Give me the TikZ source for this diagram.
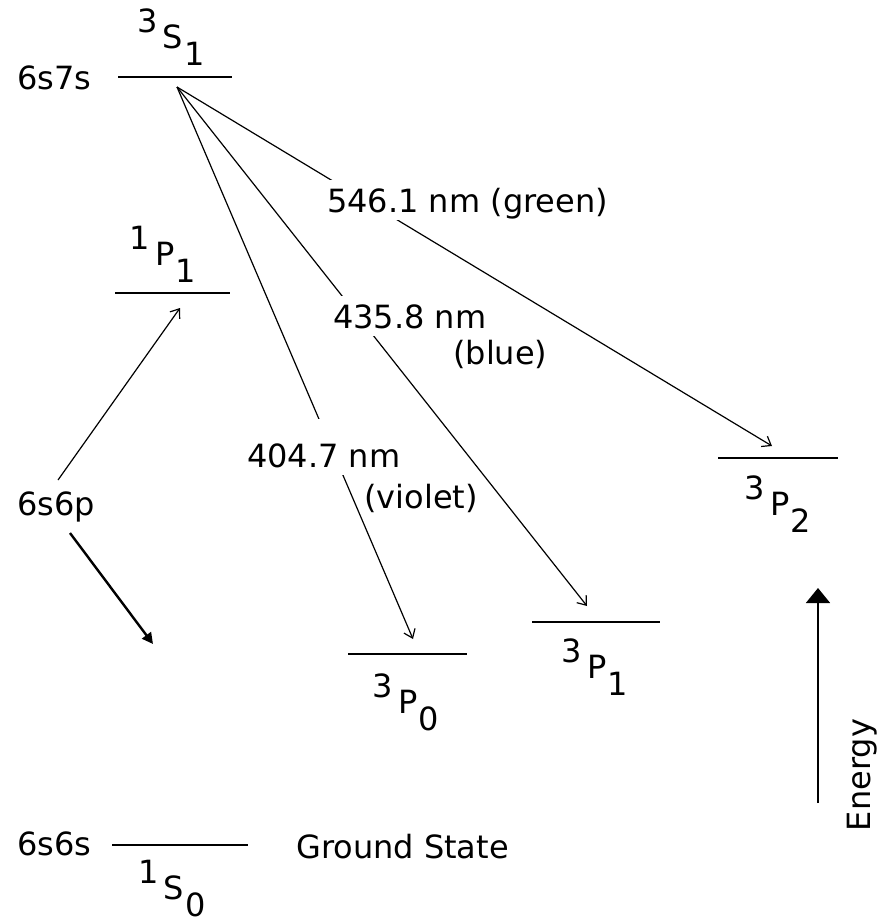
\documentclass[tikz,border=0pt]{standalone}
\usepackage{fontspec}
\setmainfont{DejaVu Sans}
\usetikzlibrary{arrows.meta}

\newcommand{\term}[3]{\raisebox{16pt}{#1}\hspace{5pt}#2\hspace{1pt}\raisebox{-17pt}{#3}}

\begin{document}
\begin{tikzpicture}[
    x=1pt, y=-1pt,
    every node/.style={font=\fontsize{32}{38}\selectfont, inner sep=0pt},
    level/.style={line width=2pt},
    trans/.style={line width=1.2pt,-{Straight Barb[length=8pt,width=12pt]}},
    decay/.style={line width=2.4pt,-{Triangle[length=11pt,width=11pt]}},
    axis/.style={line width=1.6pt,-{Triangle[length=15pt,width=24pt]}},
    cut/.style={fill=white,inner xsep=3pt,inner ysep=8pt,text depth=0pt},
]
\useasboundingbox (0,0) rectangle (885,924);
% Levels
\foreach \name/\xa/\xb/\y in {S31/118/232/77, P11/115/230/293, P30/348/467/654,
    P31/532/660/622, P32/718/838/458, S10/112/248/845} {
    \draw[level] (\xa,\y) coordinate (\name-l) -- (\xb,\y) coordinate (\name-r);
}
% Term symbols
\node[anchor=base] (S31-t) at (171,48)  {\term{3}{S}{1}};
\node[anchor=base] (P11-t) at (163,265) {\term{1}{P}{1}};
\node[anchor=base] (P30-t) at (406,713) {\term{3}{P}{0}};
\node[anchor=base] (P31-t) at (595,678) {\term{3}{P}{1}};
\node[anchor=base] (P32-t) at (778,515) {\term{3}{P}{2}};
\node[anchor=base] (S10-t) at (172,899) {\term{1}{S}{0}};
% Configurations
\node[anchor=base west] (c67)    at (17,89)   {6s7s};
\node[anchor=base west] (c66p)   at (17,515)  {6s6p};
\node[anchor=base west] (c66)    at (17,855)  {6s6s};
\node[anchor=base west] (ground) at (296,858) {Ground State};
% Transitions
\coordinate (src)   at (177,87);
\coordinate (P30-a) at (413,639);
\coordinate (P31-a) at (587,606);
\coordinate (P32-a) at (772,446);
\draw[trans] (src) -- (P32-a);
\draw[trans] (src) -- (P31-a);
\draw[trans] (src) -- (P30-a);
\node[cut,anchor=base west] (nm5461) at (324,212) {546.1 nm (green)};
\node[cut,anchor=base west] (nm4358) at (330,328) {435.8 nm};
\node[anchor=base west]     (blue)   at (453,364) {(blue)};
\node[cut,anchor=base west,text height=40pt] (nm4047) at (244,467) {404.7 nm};
\node[anchor=base west]     (violet) at (364,508) {(violet)};
% Excitation and decay of 6s6p
\coordinate (c66p-a) at (58,480);
\coordinate (P11-a)  at (180,308);
\draw[trans] (c66p-a) -- (P11-a);
\coordinate (d0) at (70,533);
\coordinate (d1) at (153,644);
\draw[decay] (d0) -- (d1);
% Energy axis
\coordinate (e0) at (818,803);
\coordinate (e1) at (818,588);
\draw[axis] (e0) -- (e1);
\node[rotate=90] (energy) at (862,775) {Energy};
\end{tikzpicture}
\end{document}
